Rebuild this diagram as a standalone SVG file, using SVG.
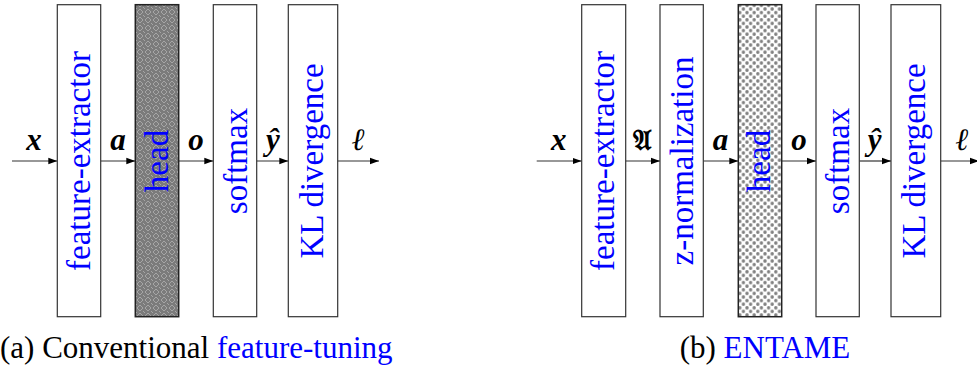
<svg xmlns="http://www.w3.org/2000/svg" width="977" height="366" viewBox="0 0 977 366">
<style>
.box{fill:#fff;stroke:#333;stroke-width:1.2}
.lbl{font-family:'Liberation Serif',serif;font-size:33px;fill:#0000ff;text-anchor:middle}
.math{font-family:'Liberation Serif',serif;font-size:31px;font-weight:bold;font-style:italic;fill:#000;text-anchor:middle}
.cap{font-family:'Liberation Serif',serif;font-size:31px;fill:#000}
.arr{stroke:#333;stroke-width:1.2;fill:none;marker-end:url(#ah)}
</style>
<defs>
<marker id="ah" markerWidth="10" markerHeight="8" refX="9" refY="4" orient="auto" markerUnits="userSpaceOnUse">
<path d="M0,0.8 L9,4 L0,7.2 Z" fill="#000"/>
</marker>
<pattern id="xdots" width="8" height="8" patternUnits="userSpaceOnUse">
<rect width="8" height="8" fill="#7b7b7b"/>
<g fill="#a6a6a6">
<rect x="1" y="3" width="1" height="2"/>
<rect x="6" y="3" width="1" height="2"/>
<rect x="3" y="1" width="2" height="1"/>
<rect x="3" y="6" width="2" height="1"/>
<rect x="2" y="2" width="1" height="1"/>
<rect x="5" y="2" width="1" height="1"/>
<rect x="2" y="5" width="1" height="1"/>
<rect x="5" y="5" width="1" height="1"/>
<rect x="0" y="0" width="1" height="1"/>
<rect x="7" y="7" width="1" height="1"/>
</g>
</pattern>
<pattern id="dots" width="7.2" height="7.2" patternUnits="userSpaceOnUse">
<rect width="7.2" height="7.2" fill="#fff"/>
<circle cx="1.8" cy="1.8" r="1.7" fill="#808080"/>
<circle cx="5.4" cy="5.4" r="1.7" fill="#808080"/>
</pattern>
</defs>

<g id="connectors">
<line class="arr" x1="12" y1="161" x2="57.3" y2="161"/>
<line class="arr" x1="100.7" y1="161" x2="135.3" y2="161"/>
<line class="arr" x1="178.7" y1="161" x2="213.3" y2="161"/>
<line class="arr" x1="256.7" y1="161" x2="288.3" y2="161"/>
<line class="arr" x1="337.7" y1="161" x2="379" y2="161"/>
<line class="arr" x1="536.7" y1="161" x2="581.7" y2="161"/>
<line class="arr" x1="625.7" y1="161" x2="660" y2="161"/>
<line class="arr" x1="703.3" y1="161" x2="738.3" y2="161"/>
<line class="arr" x1="781.7" y1="161" x2="816" y2="161"/>
<line class="arr" x1="859.3" y1="161" x2="891" y2="161"/>
<line class="arr" x1="940.7" y1="161" x2="979" y2="161"/>
</g>

<g id="edge-labels">
<text class="math" x="34" y="150">x</text>
<text class="math" x="118" y="150">a</text>
<text class="math" x="196" y="150">o</text>
<text class="math" x="273" y="150">ŷ</text>
<text class="math" x="358" y="150" style="font-weight:normal">ℓ</text>
<text class="math" x="558.7" y="150">x</text>
<text class="math" x="642.5" y="150" style="font-style:normal;font-family:'DejaVu Serif','Noto Sans',serif;font-size:28px">𝔄</text>
<text class="math" x="720.5" y="150">a</text>
<text class="math" x="799" y="150">o</text>
<text class="math" x="874.7" y="150">ŷ</text>
<text class="math" x="961.7" y="150" style="font-weight:normal">ℓ</text>
</g>

<g id="a-feature-extractor">
<rect class="box" x="57.3" y="4.7" width="43.4" height="312"/>
<text class="lbl" transform="translate(79,161) rotate(-90)" x="0" y="11">feature-extractor</text>
</g>
<g id="a-head">
<rect x="135.3" y="4.7" width="43.4" height="312" fill="url(#xdots)" stroke="#222" stroke-width="1.5"/>
<text class="lbl" transform="translate(157,161) rotate(-90)" x="0" y="11">head</text>
</g>
<g id="a-softmax">
<rect class="box" x="213.3" y="4.7" width="43.4" height="312"/>
<text class="lbl" transform="translate(235,161) rotate(-90)" x="0" y="12">softmax</text>
</g>
<g id="a-kl">
<rect class="box" x="288.3" y="4.7" width="49.4" height="312"/>
<text class="lbl" transform="translate(313,161) rotate(-90)" x="0" y="10">KL divergence</text>
</g>

<g id="b-feature-extractor">
<rect class="box" x="581.7" y="4.7" width="44" height="312"/>
<text class="lbl" transform="translate(603.7,161) rotate(-90)" x="0" y="10">feature-extractor</text>
</g>
<g id="b-z-normalization">
<rect class="box" x="660" y="4.7" width="43.3" height="312"/>
<text class="lbl" transform="translate(681.7,161) rotate(-90)" x="0" y="11">z-normalization</text>
</g>
<g id="b-head">
<rect x="738.3" y="4.7" width="43.4" height="312" fill="url(#dots)" stroke="#222" stroke-width="1.5"/>
<text class="lbl" transform="translate(760,161) rotate(-90)" x="0" y="10">head</text>
</g>
<g id="b-softmax">
<rect class="box" x="816" y="4.7" width="43.3" height="312"/>
<text class="lbl" transform="translate(837.7,161) rotate(-90)" x="0" y="11">softmax</text>
</g>
<g id="b-kl">
<rect class="box" x="891" y="4.7" width="49.7" height="312"/>
<text class="lbl" transform="translate(915.8,161) rotate(-90)" x="0" y="9">KL divergence</text>
</g>

<g id="captions">
<text class="cap" x="0" y="358">(a) Conventional <tspan fill="#0000ff">feature-tuning</tspan></text>
<text class="cap" x="765" y="358" text-anchor="middle">(b) <tspan fill="#0000ff">ENTAME</tspan></text>
</g>
</svg>
